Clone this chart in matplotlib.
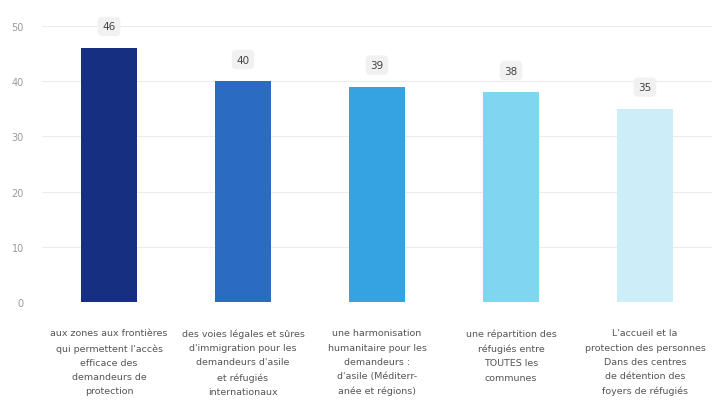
import matplotlib
matplotlib.use("Agg")
import matplotlib.pyplot as plt

categories = [
    "aux zones aux frontières\nqui permettent l'accès\nefficace des\ndemandeurs de\nprotection",
    "des voies légales et sûres\nd'immigration pour les\ndemandeurs d'asile\net réfugiés\ninternationaux",
    "une harmonisation\nhumanitaire pour les\ndemandeurs :\nd'asile (Méditerr-\nanée et régions)",
    "une répartition des\nréfugiés entre\nTOUTES les\ncommunes",
    "L'accueil et la\nprotection des personnes\nDans des centres\nde détention des\nfoyers de réfugiés",
]
values = [46, 40, 39, 38, 35]
yticks = [0, 10, 20, 30, 40, 50]
colors = ["#172f80", "#2b6cc2", "#35a2e2", "#80d6f0", "#cdeef8"]

fig = plt.figure(figsize=(7.12, 4.14), dpi=100)
ax = fig.add_axes([42 / 712, 111 / 414, 670 / 712, 276 / 414])

x = list(range(len(categories)))
bars = ax.bar(x, values, width=0.42, color=colors, zorder=3)

ax.set_xlim(-0.5, len(categories) - 0.5)
ax.set_ylim(0, 50)
ax.set_yticks(yticks)
ax.set_yticklabels([str(t) for t in yticks], color="#9a9a9a", fontsize=7)
ax.tick_params(axis="y", length=0, pad=13)
ax.tick_params(axis="x", length=0, pad=19)
ax.set_xticks(x)
ax.set_xticklabels(categories, fontsize=6.8, color="#555555", linespacing=1.75, va="top")
for s in ax.spines.values():
    s.set_visible(False)
ax.grid(axis="y", color="#ececec", linewidth=0.8, zorder=0)

for xi, v in zip(x, values):
    ax.annotate(str(v), (xi, v), xytext=(0, 12), textcoords="offset points",
                ha="center", va="bottom", fontsize=7.5, color="#444444",
                annotation_clip=False,
                bbox=dict(boxstyle="round,pad=0.45", fc="#f1f1f1", ec="none"))

fig.savefig("out.png", dpi=100)
